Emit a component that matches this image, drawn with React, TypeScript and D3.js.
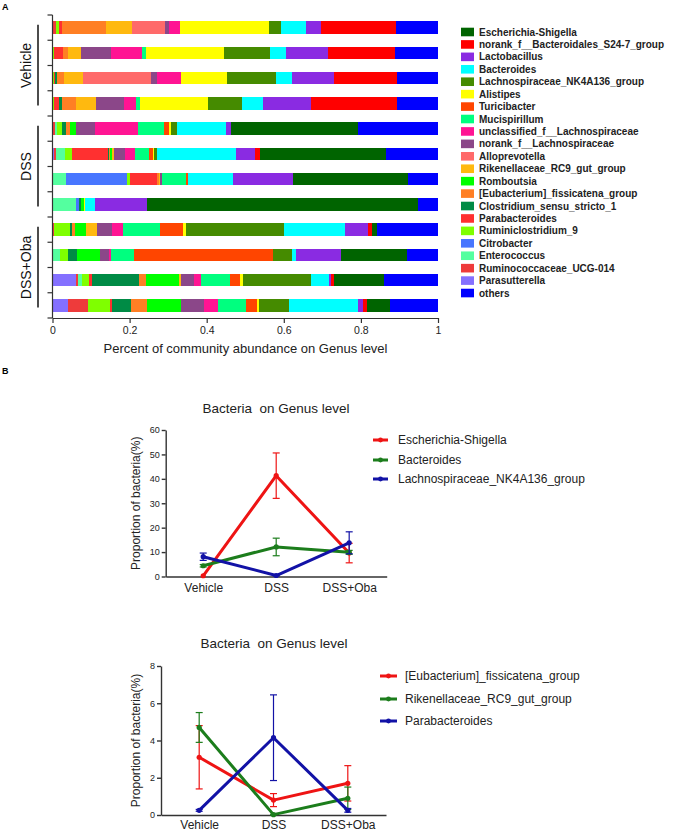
import * as d3 from 'd3';
import { useEffect, useRef } from 'react';

// ---------- panel A : community barplot ----------
const genera = [
  'Escherichia-Shigella', 'norank_f__Bacteroidales_S24-7_group', 'Lactobacillus', 'Bacteroides',
  'Lachnospiraceae_NK4A136_group', 'Alistipes', 'Turicibacter', 'Mucispirillum',
  'unclassified_f__Lachnospiraceae', 'norank_f__Lachnospiraceae', 'Alloprevotella',
  'Rikenellaceae_RC9_gut_group', 'Romboutsia', '[Eubacterium]_fissicatena_group',
  'Clostridium_sensu_stricto_1', 'Parabacteroides', 'Ruminiclostridium_9', 'Citrobacter',
  'Enterococcus', 'Ruminococcaceae_UCG-014', 'Parasutterella', 'others',
];
const genusColors = [
  '#006400', '#FF0000', '#8A2BE2', '#00FFFF', '#458B00', '#FFFF00', '#FF4500', '#00FF7F',
  '#FF1493', '#8B4789', '#FF6A6A', '#FFB90F', '#00FF00', '#FF7F24', '#008B45', '#FF3030',
  '#7FFF00', '#4876FF', '#54FF9F', '#EE3B3B', '#8470FF', '#0000FF',
];
const sampleIds = ['V1', 'V2', 'V3', 'V4', 'D1', 'D2', 'D3', 'D4', 'O1', 'O2', 'O3', 'O4'];
// values in legend order
const vehicle1 = [0, .195, .040, .064, .031, .231, 0, 0, .030, .009, .086, .068, 0, .114, 0, .007, .009, 0, 0, .009, 0, .109];
const vehicle2 = [0, .173, .111, .042, .118, .204, 0, .009, .081, .078, 0, .035, 0, .013, 0, .023, .004, 0, 0, 0, 0, .112];
const vehicle3 = [0, .164, .111, .041, .128, .119, 0, 0, .063, .015, .177, .049, 0, .020, .004, .004, .003, 0, 0, 0, 0, .106];
const vehicle4 = [0, .224, .125, .054, .088, .177, 0, .009, .032, .072, 0, .054, 0, .036, .007, .012, .005, 0, 0, 0, 0, .106];
const dss1 = [.329, 0, .013, .128, .016, .004, .013, .069, .110, .051, 0, 0, .014, .012, .009, 0, .014, 0, .004, .007, 0, .209];
const dss2 = [.329, .013, .048, .206, .006, .004, .009, .036, .026, .030, 0, .005, .004, .004, .003, .092, .019, 0, .024, .005, .003, .134];
const dss3 = [.299, 0, .156, .118, 0, 0, .005, .062, 0, .006, 0, .003, 0, .004, 0, .071, .006, .160, .035, 0, 0, .078];
const dss4 = [.706, 0, .134, .026, 0, .004, 0, 0, 0, 0, 0, 0, .007, 0, .004, 0, 0, .009, .061, 0, 0, .052];
const oba1 = [.013, .009, .059, .160, .255, .007, .061, .095, .030, .039, 0, .028, .029, .006, .007, 0, .040, 0, 0, .005, 0, .160];
const oba2 = [.171, 0, .117, .010, .049, 0, .362, .061, .006, .022, 0, 0, .061, 0, .022, 0, .022, 0, .019, 0, 0, .082];
const oba3 = [.129, .007, .006, .048, .176, .007, .026, .075, .020, .032, 0, .006, .086, .017, .124, .006, .020, 0, .009, .006, .061, .141];
const oba4 = [.058, .011, .013, .180, .077, .004, .030, .073, .036, .060, 0, 0, .086, .043, .050, .004, .056, 0, 0, .054, .039, .125];
const sampleValues = [vehicle1, vehicle2, vehicle3, vehicle4, dss1, dss2, dss3, dss4, oba1, oba2, oba3, oba4];
const groupLabels = ['Vehicle', 'DSS', 'DSS+Oba'];
const xTicksA = [0, 0.2, 0.4, 0.6, 0.8, 1];

// ---------- panel B : line charts ----------
const treatments = ['Vehicle', 'DSS', 'DSS+Oba'];
const escherichiaMean = [0.3, 41.3, 9.6];
const escherichiaSem = [0, 9.3, 4.0];
const bacteroidesMean = [4.4, 12.1, 9.9];
const bacteroidesSem = [0.5, 3.6, 0.8];
const nk4a136Mean = [8.1, 0.4, 13.8];
const nk4a136Sem = [1.5, 0.2, 4.5];
const eubacteriumMean = [3.1, 0.8, 1.7];
const eubacteriumSem = [1.7, 0.35, 0.95];
const rikenellaceaeMean = [4.7, 0.02, 0.9];
const rikenellaceaeSem = [0.8, 0.02, 0.6];
const parabacteroidesMean = [0.25, 4.15, 0.25];
const parabacteroidesSem = [0.05, 2.3, 0.1];

const RED = '#EE1414';
const GREEN = '#1C7D1C';
const BLUE = '#1212A6';
const FONT = '"Liberation Sans", Arial, sans-serif';

function drawLineChart(svg, cfg) {
  const x = d3.scalePoint().domain(treatments).range(cfg.xRange).padding(0.514);
  const y = d3.scaleLinear().domain(cfg.yDomain).range(cfg.yRange);
  const g = svg.append('g').style('font-family', FONT);

  g.append('text')
    .attr('x', cfg.titleX).attr('y', cfg.titleY)
    .attr('text-anchor', 'middle').attr('font-size', 13.5).attr('fill', '#222')
    .style('white-space', 'pre')
    .text('Bacteria  on Genus level');

  const yAxis = g.append('g')
    .attr('transform', `translate(${cfg.xRange[0]},0)`)
    .call(d3.axisLeft(y).tickValues(cfg.ticks).tickSize(4).tickSizeOuter(0).tickPadding(2));
  yAxis.selectAll('text').attr('font-size', 9).attr('fill', '#222').style('font-family', FONT);
  yAxis.selectAll('line, path').attr('stroke', '#333').attr('stroke-width', 1.4);

  const xAxis = g.append('g')
    .attr('transform', `translate(0,${cfg.yRange[0]})`)
    .call(d3.axisBottom(x).tickSize(0).tickSizeOuter(0).tickPadding(cfg.labelPad));
  xAxis.selectAll('text').attr('font-size', 12).attr('fill', '#222').style('font-family', FONT);
  xAxis.select('path').attr('stroke', '#333').attr('stroke-width', 1.4);

  g.append('text')
    .attr('transform', `translate(${cfg.yTitleX},${(cfg.yRange[0] + cfg.yRange[1]) / 2}) rotate(-90)`)
    .attr('text-anchor', 'middle').attr('font-size', 12).attr('fill', '#222')
    .text('Proportion of bacteria(%)');

  const line = d3.line().x((d, i) => x(treatments[i])).y(d => y(d));

  cfg.series.forEach((s, k) => {
    const sg = g.append('g');
    s.mean.forEach((m, i) => {
      if (!s.sem[i]) return;
      const cx = x(treatments[i]);
      const lo = y(Math.max(0, m - s.sem[i]));
      const hi = y(m + s.sem[i]);
      sg.append('line').attr('x1', cx).attr('x2', cx).attr('y1', lo).attr('y2', hi)
        .attr('stroke', s.color).attr('stroke-width', 1.2);
      [lo, hi].forEach(v => sg.append('line')
        .attr('x1', cx - 3.5).attr('x2', cx + 3.5).attr('y1', v).attr('y2', v)
        .attr('stroke', s.color).attr('stroke-width', 1.2));
    });
    sg.append('path').datum(s.mean)
      .attr('fill', 'none').attr('stroke', s.color).attr('stroke-width', 3)
      .attr('stroke-linejoin', 'round').attr('d', line);
    sg.selectAll('circle.pt').data(s.mean).join('circle')
      .attr('cx', (d, i) => x(treatments[i])).attr('cy', d => y(d)).attr('r', 2.6)
      .attr('fill', s.color);

    const ly = cfg.legendY[k];
    g.append('line').attr('x1', cfg.legendX[0]).attr('x2', cfg.legendX[1]).attr('y1', ly).attr('y2', ly)
      .attr('stroke', s.color).attr('stroke-width', 3);
    g.append('circle').attr('cx', (cfg.legendX[0] + cfg.legendX[1]) / 2).attr('cy', ly).attr('r', 2.4)
      .attr('fill', s.color);
    g.append('text').attr('x', cfg.legendX[2]).attr('y', ly + 4.2)
      .attr('font-size', 12).attr('fill', '#222').text(s.name);
  });
}

function Chart() {
  const svgRef = useRef(null);

  useEffect(() => {
    const svg = d3.select(svgRef.current);
    svg.selectAll('*').remove();
    svg.style('font-family', FONT);

    // panel letters
    svg.append('text').attr('x', 2).attr('y', 10).attr('font-size', 9).attr('font-weight', 'bold').text('A');
    svg.append('text').attr('x', 2).attr('y', 374).attr('font-size', 9).attr('font-weight', 'bold').text('B');

    // ---- panel A ----
    const table = sampleIds.map((id, r) => {
      const row = { sample: id };
      genera.forEach((gname, j) => { row[gname] = sampleValues[r][j]; });
      return row;
    });
    const stackKeys = genera.slice(0, 21).reverse().concat(['others']);
    const stacked = d3.stack().keys(stackKeys).offset(d3.stackOffsetExpand)(table);
    const color = d3.scaleOrdinal().domain(genera).range(genusColors);

    const xA = d3.scaleLinear().domain([0, 1]).range([52.5, 438]);
    const yA = d3.scaleBand().domain(sampleIds).range([15, 318]).paddingInner(0.5).paddingOuter(0.25);

    const bars = svg.append('g').attr('shape-rendering', 'crispEdges');
    stacked.forEach(layer => {
      bars.append('g').attr('fill', color(layer.key))
        .selectAll('rect').data(layer).join('rect')
        .attr('x', d => xA(d[0]))
        .attr('width', d => Math.max(0, xA(d[1]) - xA(d[0])))
        .attr('y', d => yA(d.data.sample))
        .attr('height', yA.bandwidth());
    });

    // y axis with ticks between bars
    const axA = svg.append('g').attr('stroke', '#333').attr('stroke-width', 1.2);
    axA.append('line').attr('x1', 52.5).attr('x2', 52.5).attr('y1', 15).attr('y2', 318);
    d3.range(sampleIds.length + 1).forEach(i => {
      const ty = 15 + i * yA.step();
      axA.append('line').attr('x1', 47.5).attr('x2', 52.5).attr('y1', ty).attr('y2', ty);
    });

    const xAxisA = svg.append('g')
      .attr('transform', 'translate(0,318)')
      .call(d3.axisBottom(xA).tickValues(xTicksA).tickSize(5).tickSizeOuter(0).tickPadding(4)
        .tickFormat(d => (d === 0 || d === 1 ? String(d) : d3.format('.1f')(d))));
    xAxisA.selectAll('text').attr('font-size', 10.5).attr('fill', '#222').style('font-family', FONT);
    xAxisA.selectAll('line, path').attr('stroke', '#333').attr('stroke-width', 1.2);

    svg.append('text').attr('x', 245.5).attr('y', 353).attr('text-anchor', 'middle')
      .attr('font-size', 13).attr('fill', '#222')
      .text('Percent of community abundance on Genus level');

    // group brackets
    groupLabels.forEach((lab, k) => {
      const first = yA(sampleIds[k * 4]) + yA.bandwidth() / 2;
      const last = yA(sampleIds[k * 4 + 3]) + yA.bandwidth() / 2;
      svg.append('line').attr('x1', 38).attr('x2', 38).attr('y1', first - 3).attr('y2', last + 2)
        .attr('stroke', '#111').attr('stroke-width', 1.5);
      svg.append('text')
        .attr('transform', `translate(31,${(first + last) / 2}) rotate(-90)`)
        .attr('text-anchor', 'middle').attr('font-size', 14).attr('fill', '#111').text(lab);
    });

    // legend
    const lg = svg.append('g');
    genera.forEach((gname, i) => {
      const cy = 32 + i * 12.43;
      lg.append('rect').attr('x', 461).attr('y', cy - 4.3).attr('width', 13).attr('height', 8.6)
        .attr('fill', genusColors[i]);
      lg.append('text').attr('x', 479).attr('y', cy + 3.6).attr('font-size', 10)
        .attr('font-weight', 'bold').attr('fill', '#222').text(gname);
    });

    // ---- panel B ----
    drawLineChart(svg, {
      xRange: [165.7, 386.7], yDomain: [0, 60], yRange: [576.5, 430], ticks: d3.range(0, 61, 10),
      titleX: 276, titleY: 413, yTitleX: 140, labelPad: 7,
      legendX: [373, 388, 398], legendY: [440, 460, 479],
      series: [
        { name: 'Escherichia-Shigella', color: RED, mean: escherichiaMean, sem: escherichiaSem },
        { name: 'Bacteroides', color: GREEN, mean: bacteroidesMean, sem: bacteroidesSem },
        { name: 'Lachnospiraceae_NK4A136_group', color: BLUE, mean: nk4a136Mean, sem: nk4a136Sem },
      ],
    });
    drawLineChart(svg, {
      xRange: [161, 386], yDomain: [0, 8], yRange: [815, 666], ticks: d3.range(0, 9, 2),
      titleX: 274, titleY: 648, yTitleX: 140, labelPad: 5,
      legendX: [380, 397, 405], legendY: [676, 699, 721],
      series: [
        { name: '[Eubacterium]_fissicatena_group', color: RED, mean: eubacteriumMean, sem: eubacteriumSem },
        { name: 'Rikenellaceae_RC9_gut_group', color: GREEN, mean: rikenellaceaeMean, sem: rikenellaceaeSem },
        { name: 'Parabacteroides', color: BLUE, mean: parabacteroidesMean, sem: parabacteroidesSem },
      ],
    });
  }, []);

  return (
    <svg ref={svgRef} width={678} height={833}
      style={{ position: 'absolute', left: 0, top: 0, background: '#fff' }} />
  );
}

export default function App() {
  return <Chart />;
}
